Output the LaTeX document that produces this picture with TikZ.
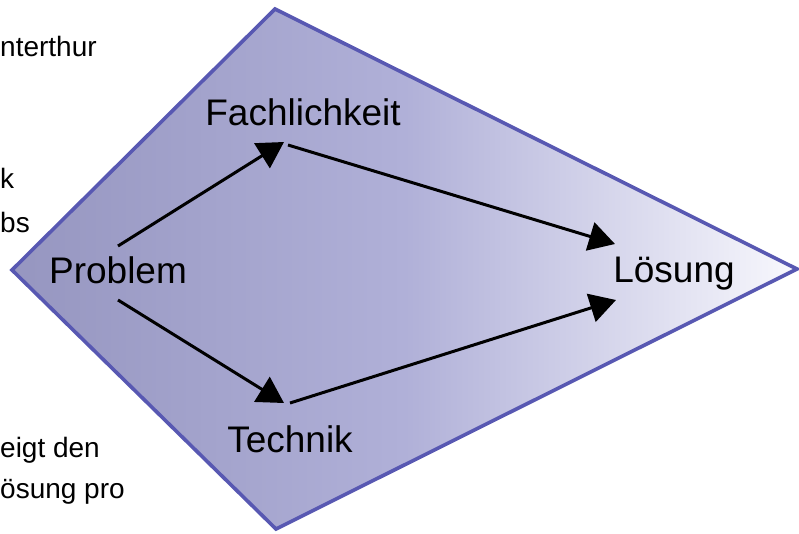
\documentclass[tikz,border=0pt]{standalone}
\usepackage{fontspec}
\setmainfont{Liberation Sans}
\usetikzlibrary{arrows.meta}

\definecolor{kiteedge}{RGB}{88,88,178}
\definecolor{kiteleft}{RGB}{150,150,192}
\definecolor{kitemid}{RGB}{176,176,216}
\definecolor{kiteright}{RGB}{248,248,253}

\tikzset{
  bgtext/.style={anchor=base west, inner sep=0pt, font=\fontsize{28}{33}\selectfont},
  label/.style={anchor=base, inner sep=0pt, font=\fontsize{37}{44}\selectfont},
  flow/.style={line width=3pt, -{Triangle[length=26pt,width=29pt]}},
}

\begin{document}
\begin{tikzpicture}[x=1pt,y=-1pt]
  \useasboundingbox (0,0) rectangle (799,533);

  % text of the page lying behind the diagram
  \node[bgtext] (t1) at (0,56) {nterthur};
  \node[bgtext] (t2) at (0,188) {k};
  \node[bgtext] (t3) at (0,232) {bs};
  \node[bgtext] (t4) at (0,457) {eigt den};
  \node[bgtext] (t5) at (0,498) {ösung pro};

  % the kite
  \shade[left color=kiteleft, right color=kiteright, middle color=kitemid]
    (12,270) -- (275,9) -- (797,269) -- (276,529) -- cycle;
  \draw[kiteedge, line width=3.6pt, line join=miter]
    (12,270) -- (275,9) -- (797,269) -- (276,529) -- cycle;

  % labels
  \node[label] (prob) at (118,283) {Problem};
  \node[label] (fach) at (303,125) {Fachlichkeit};
  \node[label] (tech) at (290,452) {Technik};
  \node[label] (loes) at (674,282) {Lösung};

  % connector end points
  \coordinate (probUp) at (118,246);
  \coordinate (probDown) at (118,300);
  \coordinate (fachIn) at (284,142);
  \coordinate (fachOut) at (288,145);
  \coordinate (techIn) at (284,403);
  \coordinate (techOut) at (290,403);
  \coordinate (loesUp) at (615,244);
  \coordinate (loesDown) at (616,300);

  \draw[flow] (probUp) -- (fachIn);
  \draw[flow] (probDown) -- (techIn);
  \draw[flow] (fachOut) -- (loesUp);
  \draw[flow] (techOut) -- (loesDown);
\end{tikzpicture}
\end{document}
